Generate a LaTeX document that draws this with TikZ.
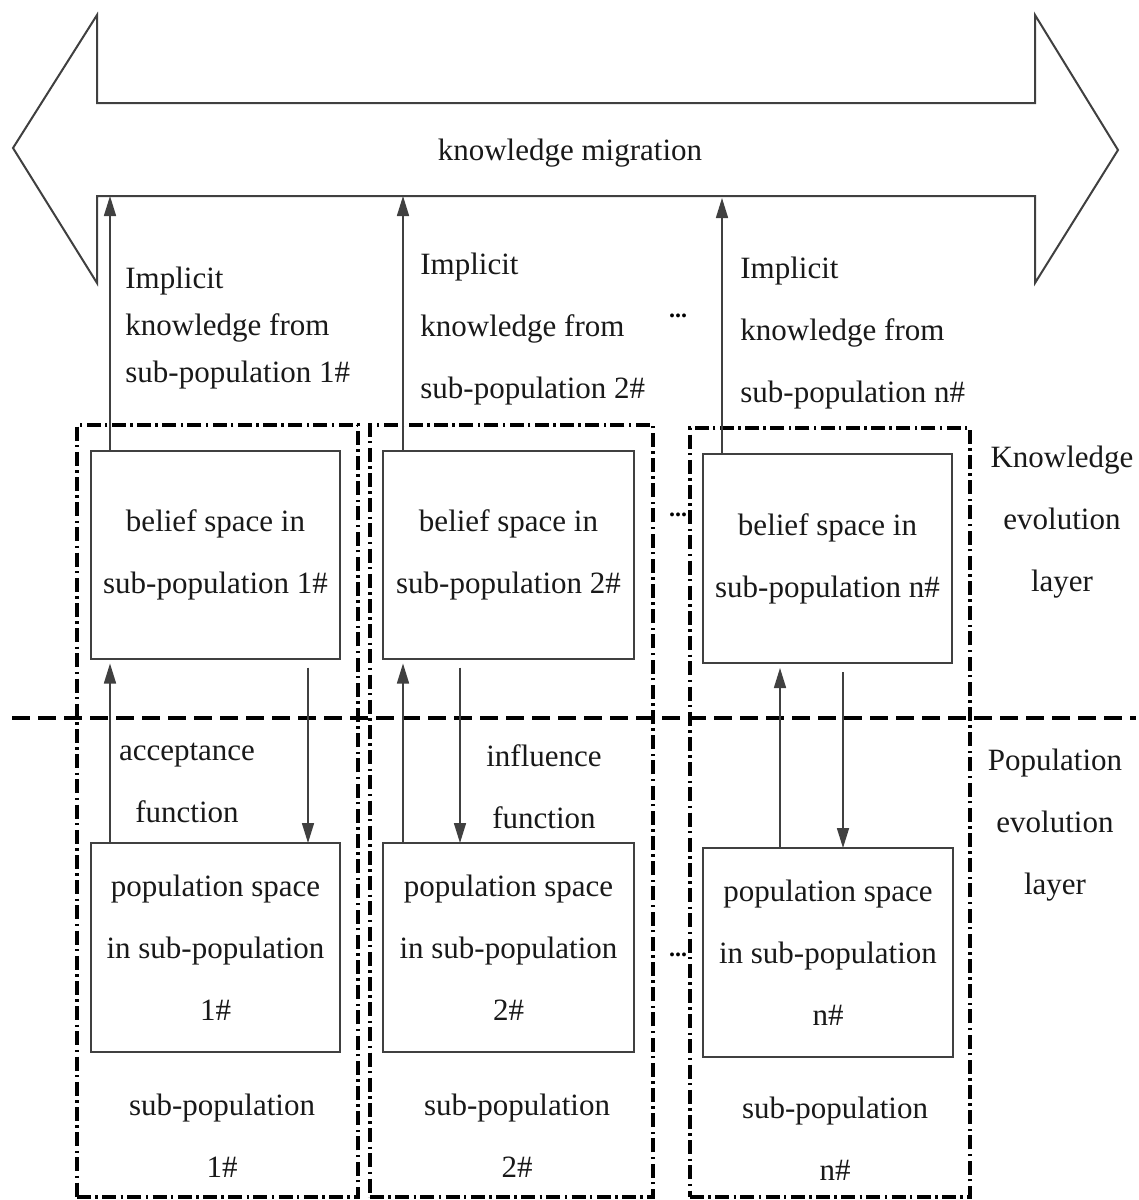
\documentclass[tikz,border=0pt]{standalone}
\usepackage{fontspec}
\setmainfont{Liberation Serif}
\usetikzlibrary{arrows.meta}
\begin{document}
\begin{tikzpicture}[x=0.5pt,y=-0.5pt,
  txt/.style={font=\fontsize{15.5}{31}\selectfont, text=black!90, inner sep=0pt, align=center},
  box/.style={draw=black!75, line width=1pt, inner sep=0pt, outer sep=0pt,
    minimum width=124.5pt, minimum height=104pt, txt},
  grp/.style={draw=black, line width=2pt, dash pattern=on 7pt off 2.2pt on 1.2pt off 2.2pt,
    inner sep=0pt, outer sep=0pt, minimum height=386pt},
  conn/.style={draw=black!75, line width=0.8pt, -{Triangle[length=10pt,width=6pt]}},
  layerline/.style={draw=black, line width=2pt, dash pattern=on 9pt off 4pt},
  dots/.style={font=\fontsize{12}{12}\selectfont\bfseries, inner sep=0pt},
  bigarrow/.style={draw=black!75, line width=1pt}]
\fill[white] (0,0) rectangle (1139,1200);
\useasboundingbox (0,0) rectangle (1139,1200);

% big double arrow
\draw[bigarrow] (13,148) -- (97,15) -- (97,103) -- (1035,103) -- (1035,15) -- (1118,150)
  -- (1035,283) -- (1035,196) -- (97,196) -- (97,283) -- cycle;
\node[txt] (km) at (570,153) {knowledge migration};
\coordinate (k1) at (110,196);
\coordinate (k2) at (403,196);
\coordinate (k3) at (722,198);

% group boxes
\node[grp, minimum width=140.5pt] (s1) at (217.5,811) {};
\node[grp, minimum width=141.5pt] (s2) at (511.5,811) {};
\node[grp, minimum width=140pt, minimum height=384.5pt] (s3) at (830,812.5) {};

% layer separator
\coordinate (la) at (12,718);
\coordinate (lb) at (1136,718);
\draw[layerline] (la) -- (lb);

% belief boxes
\node[box] (b1) at (215.5,554.5) {belief space in\\sub-population 1\#};
\node[box, minimum width=125.5pt] (b2) at (508.5,554.5) {belief space in\\sub-population 2\#};
\node[box, minimum height=104.5pt] (b3) at (827.5,558.5) {belief space in\\sub-population n\#};

% population boxes
\node[box, minimum height=104.5pt] (p1) at (215.5,947.5) {population space\\in sub-population\\1\#};
\node[box, minimum width=125.5pt, minimum height=104.5pt] (p2) at (508.5,947.5) {population space\\in sub-population\\2\#};
\node[box, minimum width=125pt, minimum height=104.5pt] (p3) at (828,952.5) {population space\\in sub-population\\n\#};

% implicit knowledge arrows
\draw[conn] (b1.north -| k1) -- (k1);
\draw[conn] (b2.north -| k2) -- (k2);
\draw[conn] (b3.north -| k3) -- (k3);
\node[txt, align=left, anchor=west, font=\fontsize{15.5}{23.5}\selectfont] (i1) at (125,328)
  {Implicit\\knowledge from\\sub-population 1\#};
\node[txt, align=left, anchor=west] (i2) at (420,329)
  {Implicit\\knowledge from\\sub-population 2\#};
\node[txt, align=left, anchor=west] (i3) at (740,333)
  {Implicit\\knowledge from\\sub-population n\#};

% acceptance / influence arrows
\coordinate (u1) at (110,0);
\coordinate (u2) at (403,0);
\coordinate (u3) at (780,0);
\coordinate (d1) at (308,0);
\coordinate (d2) at (460,0);
\coordinate (d3) at (843,0);
\draw[conn, shorten >=2.5pt] (p1.north -| u1) -- (b1.south -| u1);
\draw[conn, shorten >=2.5pt] (p2.north -| u2) -- (b2.south -| u2);
\draw[conn, shorten >=2.5pt] (p3.north -| u3) -- (b3.south -| u3);
\draw[conn, shorten <=4.5pt] (b1.south -| d1) -- (p1.north -| d1);
\draw[conn, shorten <=4.5pt] (b2.south -| d2) -- (p2.north -| d2);
\draw[conn, shorten <=4.5pt] (b3.south -| d3) -- (p3.north -| d3);
\node[txt] (acc) at (187,783) {acceptance\\function};
\node[txt] (inf) at (544,787) {influence\\function};

% sub-population labels
\node[txt] (l1) at (222,1136) {sub-population\\1\#};
\node[txt] (l2) at (517,1136) {sub-population\\2\#};
\node[txt] (l3) at (835,1139) {sub-population\\n\#};

% layer labels
\node[txt] (kl) at (1062,522) {Knowledge\\evolution\\layer};
\node[txt] (pl) at (1055,825) {Population\\evolution\\layer};

% ellipses
\node[dots] (e1) at (678,316) {...};
\node[dots] (e2) at (678,515) {...};
\node[dots] (e3) at (678,955) {...};
\end{tikzpicture}
\end{document}
